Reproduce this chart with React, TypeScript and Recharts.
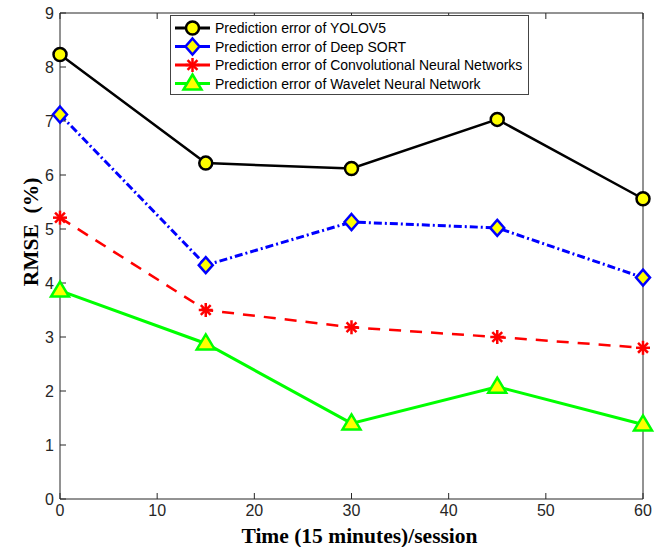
import React from 'react';
import { Line, LineChart, XAxis, YAxis } from 'recharts';

const sessions = [0, 15, 30, 45, 60];
const yolov5 = [8.23, 6.22, 6.12, 7.03, 5.56];
const deepSort = [7.12, 4.33, 5.13, 5.02, 4.1];
const cnn = [5.21, 3.5, 3.18, 3.0, 2.8];
const wnn = [3.86, 2.88, 1.4, 2.08, 1.38];
const xTicks = [0, 10, 20, 30, 40, 50, 60];
const yTicks = [0, 1, 2, 3, 4, 5, 6, 7, 8, 9];

const seriesNames = {
  yolo: 'Prediction error of YOLOV5',
  deep: 'Prediction error of Deep SORT',
  cnn: 'Prediction error of Convolutional Neural Networks',
  wnn: 'Prediction error of Wavelet Neural Network',
};

const data = sessions.map((t, i) => ({
  t,
  yolo: yolov5[i],
  deep: deepSort[i],
  cnn: cnn[i],
  wnn: wnn[i],
}));

const tickFont = { fontFamily: 'Liberation Sans, Arial, sans-serif', fontSize: 16, fill: '#262626' };
const titleFont = { fontFamily: 'Liberation Serif, Times New Roman, serif', fontWeight: 'bold', fontSize: 21.5, fill: '#000' };
const axisColor = '#262626';

const CircleMark = ({ cx, cy }: any) => (
  <circle cx={cx} cy={cy} r={6.5} fill="#ffff00" stroke="#000" strokeWidth={2.5} />
);

const DiamondMark = ({ cx, cy }: any) => (
  <polygon
    points={`${cx},${cy - 8} ${cx + 7},${cy} ${cx},${cy + 8} ${cx - 7},${cy}`}
    fill="#ffff00"
    stroke="#0000ff"
    strokeWidth={2.5}
  />
);

const StarMark = ({ cx, cy }: any) => {
  const r = 7;
  const arms = [0, 45, 90, 135].map((a) => {
    const rad = (a * Math.PI) / 180;
    return (
      <line
        key={a}
        x1={cx - r * Math.cos(rad)}
        y1={cy - r * Math.sin(rad)}
        x2={cx + r * Math.cos(rad)}
        y2={cy + r * Math.sin(rad)}
        stroke="#ff0000"
        strokeWidth={2.5}
      />
    );
  });
  return <g>{arms}</g>;
};

const TriangleMark = ({ cx, cy }: any) => (
  <polygon
    points={`${cx},${cy - 9} ${cx + 9},${cy + 6} ${cx - 9},${cy + 6}`}
    fill="#ffff00"
    stroke="#00ff00"
    strokeWidth={2.5}
  />
);

const legendRows = [
  { key: 'yolo', color: '#000', mark: CircleMark },
  { key: 'deep', color: '#0000ff', mark: DiamondMark },
  { key: 'cnn', color: '#ff0000', mark: StarMark },
  { key: 'wnn', color: '#00ff00', mark: TriangleMark },
];

// legend box drawn over the plot, MATLAB style
const LegendBox = () => (
  <svg width={360} height={81} style={{ position: 'absolute', left: 170, top: 15 }}>
    <rect x={0.5} y={0.5} width={358} height={79} fill="#fff" stroke="#444" strokeWidth={1} />
    {legendRows.map((row, i) => {
      const y = 13 + i * 18.5;
      const Mark = row.mark;
      return (
        <g key={row.key}>
          <line x1={5} y1={y} x2={40} y2={y} stroke={row.color} strokeWidth={3} />
          <Mark cx={22.5} cy={y} />
          <text x={45} y={y + 5} fontFamily="Liberation Sans, Arial, sans-serif" fontSize={14} fill="#000">
            {seriesNames[row.key as keyof typeof seriesNames]}
          </text>
        </g>
      );
    })}
  </svg>
);

const XTitle = ({ viewBox }: any) => (
  <text x={viewBox.x + viewBox.width / 2 + 8} y={543} textAnchor="middle" style={titleFont}>
    Time (15 minutes)/session
  </text>
);

const YTitle = ({ viewBox }: any) => {
  const cx = 38;
  const cy = viewBox.y + viewBox.height / 2 - 24;
  return (
    <text x={cx} y={cy} textAnchor="middle" transform={`rotate(-90 ${cx} ${cy})`} style={{ ...titleFont, whiteSpace: 'pre' }}>
      {'RMSE  (%)'}
    </text>
  );
};

const App: React.FC = () => (
  <div style={{ position: 'absolute', left: 0, top: 0, width: 663, height: 547, background: '#fff', overflow: 'hidden' }}>
    <LineChart width={663} height={547} data={data} margin={{ top: 12, right: 19, bottom: 18, left: 30 }}>
      <XAxis
        xAxisId="bottom"
        dataKey="t"
        type="number"
        domain={[0, 60]}
        ticks={xTicks}
        tick={tickFont}
        stroke={axisColor}
        tickSize={-6}
        tickMargin={12}
        height={30}
        label={<XTitle />}
      />
      <XAxis
        xAxisId="top"
        orientation="top"
        dataKey="t"
        type="number"
        domain={[0, 60]}
        ticks={xTicks}
        tickFormatter={() => ''}
        stroke={axisColor}
        tickSize={-6}
        height={1}
      />
      <YAxis
        yAxisId="left"
        domain={[0, 9]}
        ticks={yTicks}
        tick={tickFont}
        stroke={axisColor}
        tickSize={-6}
        tickMargin={12}
        width={30}
        label={<YTitle />}
      />
      <YAxis
        yAxisId="right"
        orientation="right"
        domain={[0, 9]}
        ticks={yTicks}
        tickFormatter={() => ''}
        stroke={axisColor}
        tickSize={-6}
        width={1}
      />
      <Line xAxisId="bottom" yAxisId="left" dataKey="yolo" name={seriesNames.yolo} stroke="#000" strokeWidth={2.5}
        dot={<CircleMark />} activeDot={false} isAnimationActive={false} />
      <Line xAxisId="bottom" yAxisId="left" dataKey="deep" name={seriesNames.deep} stroke="#0000ff" strokeWidth={3}
        strokeDasharray="8 3 2 3" dot={<DiamondMark />} activeDot={false} isAnimationActive={false} />
      <Line xAxisId="bottom" yAxisId="left" dataKey="cnn" name={seriesNames.cnn} stroke="#ff0000" strokeWidth={2.5}
        strokeDasharray="12 9" dot={<StarMark />} activeDot={false} isAnimationActive={false} />
      <Line xAxisId="bottom" yAxisId="left" dataKey="wnn" name={seriesNames.wnn} stroke="#00ff00" strokeWidth={3}
        dot={<TriangleMark />} activeDot={false} isAnimationActive={false} />
    </LineChart>
    <LegendBox />
  </div>
);

export default App;
